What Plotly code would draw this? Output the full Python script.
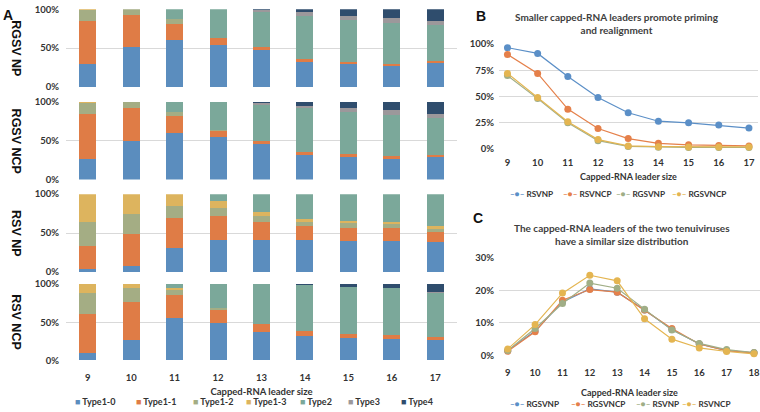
import plotly.graph_objects as go

# ---------------- data ----------------
sizes_a = ['9', '10', '11', '12', '13', '14', '15', '16', '17']
type_names = ['Type1-0', 'Type1-1', 'Type1-2', 'Type1-3', 'Type2', 'Type3', 'Type4']
type_colors = ['#5B8DBE', '#DF7C46', '#A4AD84', '#DDB45E', '#7BA89A', '#9C989B', '#2F4D6D']
row_labels = ['RGSV NP', 'RGSV NCP', 'RSV NP', 'RSV NCP']
pct_ticks_a = [0, 50, 100]
pct_text_a = ['0%', '50%', '100%']

# percentages per type (Type1-0 ... Type4) for sizes 9..17
rgsv_np = [
    [29, 51, 60, 54, 47, 32.5, 30, 27, 31],
    [56, 41, 21.5, 9, 4, 3.8, 2.5, 2, 3],
    [14.5, 8, 5.5, 0.5, 0, 0, 0, 0, 0],
    [0.5, 0, 0, 0, 0, 0, 0, 0, 0],
    [0, 0, 13, 36.5, 46, 55.5, 54.2, 53.5, 45.8],
    [0, 0, 0, 0, 2.3, 4.2, 5, 5.8, 4.6],
    [0, 0, 0, 0, 0.7, 4, 8.3, 11.7, 15.6],
]
rgsv_ncp = [
    [27, 50, 60.4, 55, 45.8, 31.3, 29.2, 27.9, 28.8],
    [57, 41.7, 20.8, 8, 4.2, 4.1, 3.3, 2.5, 3.3],
    [15, 8.3, 5.4, 0.5, 0, 0, 0, 0, 0],
    [1, 0, 0, 0, 0, 0, 0, 0, 0],
    [0, 0, 13.4, 36.5, 46.7, 56.3, 54.2, 52.9, 47.1],
    [0, 0, 0, 0, 2.5, 3.3, 5.8, 6.3, 5],
    [0, 0, 0, 0, 0.8, 5, 7.5, 10.4, 15.8],
]
rsv_np = [
    [3.3, 8.3, 30.4, 41.7, 41.7, 40.8, 39.6, 39.6, 38.3],
    [30, 40.9, 38.4, 30, 22.9, 18.4, 17.5, 17.5, 13.4],
    [31.3, 25.8, 16.6, 10.8, 7.1, 5.4, 5.4, 4.6, 4.5],
    [35.4, 25, 14.6, 9.2, 5.4, 3.3, 2.9, 2.1, 2.5],
    [0, 0, 0, 8.3, 22.9, 32.1, 34.6, 36.2, 41.3],
    [0, 0, 0, 0, 0, 0, 0, 0, 0],
    [0, 0, 0, 0, 0, 0, 0, 0, 0],
]
rsv_ncp = [
    [9.4, 27.2, 55.3, 48.5, 37, 31.5, 29.8, 28.5, 26.5],
    [51, 49.4, 29.8, 17.5, 10.6, 6.4, 5.1, 5.1, 4.3],
    [28.5, 17.9, 7.2, 2.1, 0, 0, 0, 0, 0],
    [11.1, 5.5, 3, 0, 0, 0, 0, 0, 0],
    [0, 0, 4.7, 31.9, 52.4, 60.8, 60.8, 60.9, 57.7],
    [0, 0, 0, 0, 0, 0, 0, 0, 1.2],
    [0, 0, 0, 0, 0, 1.3, 4.3, 5.5, 10.3],
]

sizes_b = [9, 10, 11, 12, 13, 14, 15, 16, 17]
b_names = ['RSVNP', 'RSVNCP', 'RGSVNP', 'RGSVNCP']
b_rsvnp = [96.5, 91, 69, 49, 34.5, 26.5, 25, 22.8, 20]
b_rsvncp = [90, 72, 38, 19.5, 10, 5.5, 4, 3.3, 3]
b_rgsvnp = [70, 48, 25, 8, 2.5, 1.8, 1.5, 1.5, 1.5]
b_rgsvncp = [72, 49, 26, 9, 3, 2.3, 2, 2, 2]

sizes_c = [9, 10, 11, 12, 13, 14, 15, 16, 17, 18]
c_names = ['RGSVNP', 'RGSVNCP', 'RSVNP', 'RSVNCP']
c_rgsvnp = [1.5, 7.5, 16.5, 20.5, 19.5, 14, 8, 3.5, 1.5, 0.8]
c_rgsvncp = [1.3, 7.3, 17, 20.3, 19.5, 14, 8.3, 3.5, 1.5, 0.8]
c_rsvnp = [1.5, 8.3, 16, 22.3, 20.7, 14.2, 7.8, 3.7, 1.8, 0.9]
c_rsvncp = [2, 9.5, 19.2, 24.7, 23, 11.3, 5, 2.3, 1.2, 0.5]

line_colors = ['#5B8FC7', '#E5804A', '#A0AE86', '#E4B551']

# ---------------- figure ----------------
W, H = 760, 412
FONT = 'Lato'
TXT = '#333333'
GRID = '#D9D9D9'


def fx(p):
    return p / W


def fy(p):
    return 1 - p / H


fig = go.Figure()

panels_a = [rgsv_np, rgsv_ncp, rsv_np, rsv_ncp]
rows_px = [(3.3, 83.3), (98.3, 178.3), (193.3, 273.3), (285.7, 364)]

for i, panel in enumerate(panels_a):
    ax = '' if i == 0 else str(i + 1)
    for j, vals in enumerate(panel):
        fig.add_trace(go.Bar(
            x=sizes_a, y=vals, name=type_names[j],
            marker=dict(color=type_colors[j], line=dict(width=0)),
            xaxis='x' + ax, yaxis='y' + ax, showlegend=False,
            hoverinfo='skip'))

for k, vals in enumerate([b_rsvnp, b_rsvncp, b_rgsvnp, b_rgsvncp]):
    fig.add_trace(go.Scatter(
        x=sizes_b, y=vals, name=b_names[k], mode='lines+markers',
        line=dict(color=line_colors[k], width=1.2),
        marker=dict(color=line_colors[k], size=7),
        xaxis='x5', yaxis='y5', showlegend=False, cliponaxis=False))

for k, vals in enumerate([c_rgsvnp, c_rgsvncp, c_rsvnp, c_rsvncp]):
    fig.add_trace(go.Scatter(
        x=sizes_c, y=vals, name=c_names[k], mode='lines+markers',
        line=dict(color=line_colors[k], width=1.2),
        marker=dict(color=line_colors[k], size=7),
        xaxis='x6', yaxis='y6', showlegend=False, cliponaxis=False))

tickfont = dict(family=FONT, size=9.5, color=TXT, weight='bold')
layout = dict(
    width=W, height=H, autosize=False,
    margin=dict(l=0, r=0, t=0, b=0),
    paper_bgcolor='white', plot_bgcolor='white',
    barmode='stack', bargap=0.61,
    font=dict(family=FONT, color=TXT),
    showlegend=False,
)

for i, (top, bot) in enumerate(rows_px):
    ax = '' if i == 0 else str(i + 1)
    last = (i == 3)
    layout['xaxis' + ax] = dict(
        domain=[fx(66), fx(457)], anchor='y' + ax, type='category',
        categoryorder='array', categoryarray=sizes_a,
        showgrid=False, zeroline=False, showline=False,
        showticklabels=last, tickfont=tickfont, ticks='',
        ticklabelstandoff=10,
        title=dict(text='Capped-RNA leader size' if last else '',
                   font=dict(family=FONT, size=9.5, color=TXT, weight='bold'),
                   standoff=6))
    layout['yaxis' + ax] = dict(
        domain=[fy(bot), fy(top)], anchor='x' + ax, range=[0, 100],
        tickvals=pct_ticks_a, ticktext=pct_text_a, tickfont=tickfont,
        showgrid=True, gridcolor=GRID, gridwidth=1, zeroline=False,
        showline=False, ticks='', ticklabelstandoff=6)

layout['xaxis5'] = dict(
    domain=[fx(499), fx(758)], anchor='y5', range=[8.72, 17.3],
    tickvals=sizes_b, showgrid=False, zeroline=False, showline=False,
    ticks='', tickfont=tickfont, ticklabelstandoff=6,
    ticklabeloverflow='allow',
    title=dict(text='Capped-RNA leader size',
               font=dict(family=FONT, size=9, color=TXT, weight='bold'),
               standoff=7))
layout['yaxis5'] = dict(
    domain=[fy(147), fy(39)], anchor='x5', range=[0, 100], dtick=25,
    ticksuffix='%', tickfont=tickfont, showgrid=True, gridcolor=GRID,
    zeroline=False, showline=False, ticks='', ticklabelstandoff=4)

layout['xaxis6'] = dict(
    domain=[fx(499), fx(760)], anchor='y6', range=[8.68, 18.22],
    tickvals=sizes_c, showgrid=False, zeroline=False, showline=False,
    ticks='', tickfont=tickfont, ticklabelstandoff=10,
    ticklabeloverflow='allow',
    title=dict(text='Capped-RNA leader size',
               font=dict(family=FONT, size=9, color=TXT, weight='bold'),
               standoff=12))
layout['yaxis6'] = dict(
    domain=[fy(359), fy(259)], anchor='x6', range=[0, 30], dtick=10,
    ticksuffix='%', tickfont=tickfont, showgrid=True, gridcolor=GRID,
    zeroline=False, showline=False, ticks='', ticklabelstandoff=4)


def ann(text, x, y, font, xanchor='center', yanchor='middle', angle=0):
    return dict(text=text, x=fx(x), y=fy(y), xref='paper', yref='paper',
                xanchor=xanchor, yanchor=yanchor, textangle=angle,
                showarrow=False, font=font)


annotations = []
# row labels
for i, (top, bot) in enumerate(rows_px):
    annotations.append(ann(row_labels[i], 16, (top + bot) / 2,
                           dict(family='Liberation Sans', size=12.5,
                                color='#111', weight='bold'), angle=90))
# panel letters
for letter, px, py in [('A', 8, 9), ('B', 481, 10), ('C', 478, 218)]:
    annotations.append(ann(letter, px, py,
                           dict(family='Liberation Sans', size=14,
                                color='#111', weight='bold')))
# panel titles
title_font = dict(family=FONT, size=10, color='#404040', weight='bold')
annotations.append(ann(
    'Smaller capped-RNA leaders promote priming<br>and realignment',
    617, 18, title_font))
annotations.append(ann(
    'The capped-RNA leaders of the two tenuiviruses<br>have a similar size distribution',
    622, 235, title_font))

# legend for panel A
leg_font = dict(family=FONT, size=9, color=TXT, weight='bold')
leg_x = [73, 134, 191, 244, 298, 346, 399]
for j, name in enumerate(type_names):
    annotations.append(ann(
        '<span style="color:%s">■</span> %s' % (type_colors[j], name),
        leg_x[j], 406.5, leg_font, xanchor='left'))

# legends for panels B and C
leg2_font = dict(family=FONT, size=8.2, color=TXT, weight='bold')
b_leg_x = [508, 561, 614, 670]
for k, name in enumerate(b_names):
    annotations.append(ann(
        '<span style="color:%s">–●–</span> %s' % (line_colors[k], name),
        b_leg_x[k], 193, leg2_font, xanchor='left'))
c_leg_x = [508, 569, 634, 680]
for k, name in enumerate(c_names):
    annotations.append(ann(
        '<span style="color:%s">–●–</span> %s' % (line_colors[k], name),
        c_leg_x[k], 408.5, leg2_font, xanchor='left'))

layout['annotations'] = annotations

fig.update_layout(**layout)
fig.write_html('out.html',
               config={'displayModeBar': False},
               post_script="document.body.style.margin='0px';")
